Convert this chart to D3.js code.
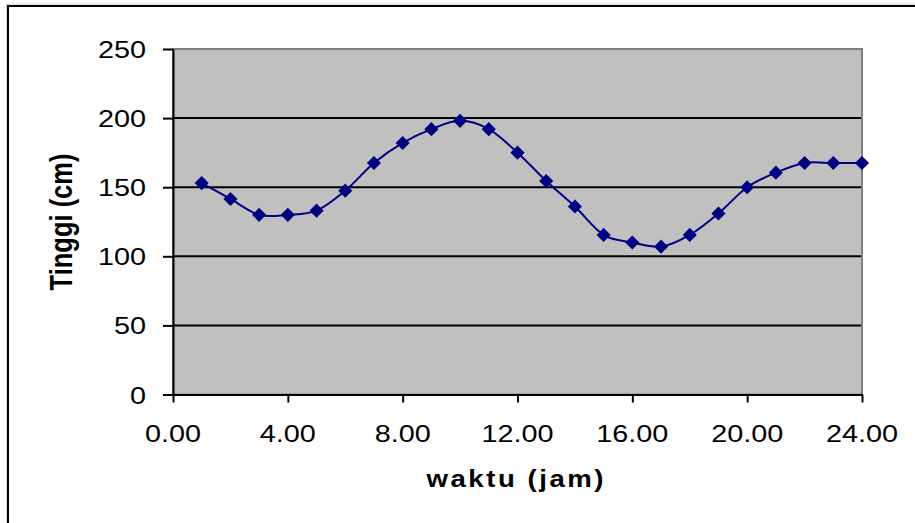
<!DOCTYPE html>
<html>
<head>
<meta charset="utf-8">
<script src="https://cdn.jsdelivr.net/npm/d3@7"></script>
<style>
  html, body { margin: 0; padding: 0; background: #fff; }
  svg { display: block; }
  text { font-family: Arial, "Liberation Sans", sans-serif; fill: #000; }
</style>
</head>
<body>
<svg id="chart" width="915" height="523"></svg>
<script>
// ---- data ----
const hours   = [1, 2, 3, 4, 5, 6, 7, 8, 9, 10, 11, 12, 13, 14, 15, 16, 17, 18, 19, 20, 21, 22, 23, 24];
const heights = [153, 141.5, 130, 130, 133, 147.5, 167.5, 182, 192, 198, 192, 175,
                 154.5, 136, 115.5, 110, 107, 115.5, 131, 150, 160.5, 167.5, 167.5, 167.5];
const xTicks = [0, 4, 8, 12, 16, 20, 24];
const yTicks = [0, 50, 100, 150, 200, 250];
const xTitle = "waktu (jam)";
const yTitle = "Tinggi (cm)";

const svg = d3.select("#chart");
const L = 173, R = 862, T = 49, B = 394.5;
const STRETCH = 1.2;

// chart area border
svg.append("rect").attr("x", 6.5).attr("y", 4).attr("width", 1000).attr("height", 1000)
  .attr("fill", "none").attr("stroke", "#d4d4d4").attr("stroke-width", 1);
svg.append("rect").attr("x", 8).attr("y", 6).attr("width", 1000).attr("height", 1000)
  .attr("fill", "#fff").attr("stroke", "#000").attr("stroke-width", 2);

const x = d3.scaleLinear().domain([0, 24]).range([L, R]);
const y = d3.scaleLinear().domain([0, 250]).range([B, T]);

// plot area
svg.append("rect").attr("x", L).attr("y", T).attr("width", R - L).attr("height", B - T)
  .attr("fill", "#C0C0C0").attr("stroke", "#808080").attr("stroke-width", 2);

// gridlines
svg.append("g").selectAll("line").data(yTicks.filter(d => d > 0 && d < 250)).join("line")
  .attr("x1", L).attr("x2", R - 1)
  .attr("y1", d => y(d)).attr("y2", d => y(d))
  .attr("stroke", "#000").attr("stroke-width", 2);

// axes (lines + ticks)
const yAxis = svg.append("g").attr("transform", `translate(${L},0)`)
  .call(d3.axisLeft(y).tickValues(yTicks).tickSize(10).tickSizeOuter(0).tickFormat(""));
const xAxis = svg.append("g").attr("transform", `translate(0,${B})`)
  .call(d3.axisBottom(x).tickValues(xTicks).tickSize(8).tickSizeOuter(0).tickFormat(""));
[yAxis, xAxis].forEach(g => {
  g.select(".domain").attr("stroke", "#000").attr("stroke-width", 2);
  g.selectAll(".tick line").attr("stroke", "#000").attr("stroke-width", 2);
});

// tick labels
svg.append("g").selectAll("text").data(yTicks).join("text")
  .attr("transform", d => `translate(146,${y(d) + 9}) scale(${STRETCH},1)`)
  .attr("text-anchor", "end").attr("font-size", 24)
  .text(d => d);
const fx = d3.format(".2f");
svg.append("g").selectAll("text").data(xTicks).join("text")
  .attr("transform", d => `translate(${x(d)},442) scale(${STRETCH},1)`)
  .attr("text-anchor", "middle").attr("font-size", 24)
  .text(d => fx(d));

// axis titles
svg.append("text")
  .attr("transform", `translate(515,487) scale(${STRETCH},1)`)
  .attr("text-anchor", "middle").attr("font-size", 23).attr("font-weight", "bold")
  .attr("textLength", 177 / STRETCH).attr("lengthAdjust", "spacing")
  .text(xTitle);
svg.append("text")
  .attr("transform", `translate(72,222) rotate(-90) scale(1,${STRETCH})`)
  .attr("text-anchor", "middle").attr("font-size", 25.5).attr("font-weight", "bold")
  .text(yTitle);

// series
const pts = hours.map((h, i) => [h, heights[i]]);
const line = d3.line().x(d => x(d[0])).y(d => y(d[1])).curve(d3.curveCardinal.tension(0));
svg.append("path").datum(pts).attr("d", line)
  .attr("fill", "none").attr("stroke", "#000080").attr("stroke-width", 2);

const diamond = d3.symbol(d3.symbolSquare, 100);
svg.append("g").selectAll("path").data(pts).join("path")
  .attr("d", diamond)
  .attr("transform", d => `translate(${x(d[0])},${y(d[1])}) rotate(45)`)
  .attr("fill", "#000080");
</script>
</body>
</html>
